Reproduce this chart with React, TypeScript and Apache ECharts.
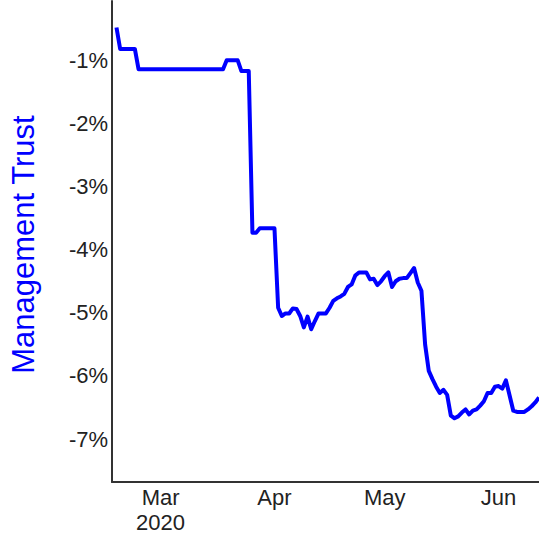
import React, { useEffect, useRef } from "react";
import * as echarts from "echarts";

const startDate = "2020-02-18";
const trustValues = [
  -0.48, -0.82, -0.82, -0.82, -0.82, -0.82,
  -1.14, -1.14, -1.14, -1.14, -1.14, -1.14, -1.14, -1.14, -1.14, -1.14, -1.14, -1.14,
  -1.14, -1.14, -1.14, -1.14, -1.14, -1.14, -1.14, -1.14, -1.14, -1.14, -1.14, -1.14,
  -1.0, -1.0, -1.0, -1.0,
  -1.17, -1.17, -1.17,
  -3.73, -3.73,
  -3.66, -3.66, -3.66, -3.66, -3.66,
  -4.92, -5.05, -5.01, -5.01, -4.93, -4.94, -5.05, -5.23, -5.06, -5.26,
  -5.13, -5.01, -5.01, -5.01, -4.92, -4.81, -4.77, -4.74, -4.7, -4.59,
  -4.55, -4.41, -4.36, -4.36, -4.36, -4.47, -4.46, -4.56, -4.5, -4.42,
  -4.36, -4.59, -4.5, -4.46, -4.45, -4.45, -4.37, -4.29, -4.52, -4.65,
  -5.5, -5.92, -6.05, -6.17, -6.27, -6.22, -6.3, -6.63, -6.67, -6.64,
  -6.58, -6.53, -6.61, -6.55, -6.53, -6.47, -6.4, -6.27, -6.27, -6.17,
  -6.16, -6.2, -6.07, -6.31, -6.55, -6.57, -6.57, -6.57, -6.53, -6.48, -6.42, -6.34,
];
const monthTicks = ["2020-03-01", "2020-04-01", "2020-05-01", "2020-06-01"];
const monthLabels = ["Mar\n2020", "Apr", "May", "Jun"];
const yTicks = [-7, -6, -5, -4, -3, -2, -1];
const xRange = ["2020-02-16T18:43:00Z", "2020-06-12T00:00:00Z"];
const yRange = [-7.68, -0.06];
const DAY = 86400000;

export default function App() {
  const ref = useRef<HTMLDivElement>(null);
  useEffect(() => {
    if (!ref.current) return;
    const chart = echarts.init(ref.current, undefined, { renderer: "svg" });
    const origin = Date.parse(monthTicks[0]);
    const toDay = (ms: number) => (ms - origin) / DAY;
    const start = toDay(Date.parse(startDate));
    const data = trustValues.map((v, i) => [start + i, v]);
    const tickDays = monthTicks.map((d) => toDay(Date.parse(d)));
    const font = "'Liberation Sans', Arial, sans-serif";
    chart.setOption({
      animation: false,
      grid: { left: 106, right: 0, top: 1, bottom: 49, containLabel: false },
      xAxis: {
        type: "value",
        min: toDay(Date.parse(xRange[0])),
        max: toDay(Date.parse(xRange[1])),
        axisLine: { show: true, onZero: false, lineStyle: { color: "#333", width: 2 } },
        axisTick: { show: false },
        splitLine: { show: false },
        axisLabel: {
          customValues: tickDays,
          color: "#222",
          fontSize: 22,
          fontFamily: font,
          lineHeight: 25,
          margin: 3,
          formatter: (val: number) => {
            const idx = tickDays.findIndex((t) => Math.abs(t - val) < 0.5);
            return idx >= 0 ? monthLabels[idx] : "";
          },
        },
      },
      yAxis: {
        type: "value",
        min: yRange[0],
        max: yRange[1],
        name: "Management Trust",
        nameLocation: "middle",
        nameGap: 73,
        nameTextStyle: { color: "#0000ff", fontSize: 31, fontFamily: font, padding: [0, 6, 0, 0] },
        axisLine: { show: true, onZero: false, lineStyle: { color: "#333", width: 2 } },
        axisTick: { show: false },
        splitLine: { show: false },
        axisLabel: {
          customValues: yTicks,
          color: "#222",
          fontSize: 22,
          fontFamily: font,
          margin: 4,
          formatter: (v: number) => `${Math.round(v)}%`,
        },
      },
      series: [
        {
          type: "line",
          data,
          showSymbol: false,
          symbol: "none",
          lineStyle: { color: "#0000ff", width: 4, join: "round" },
          clip: true,
        },
      ],
    });
    return () => chart.dispose();
  }, []);
  return (
    <div
      ref={ref}
      style={{ position: "fixed", left: 0, top: 0, width: 539, height: 535, background: "#fff" }}
    />
  );
}
